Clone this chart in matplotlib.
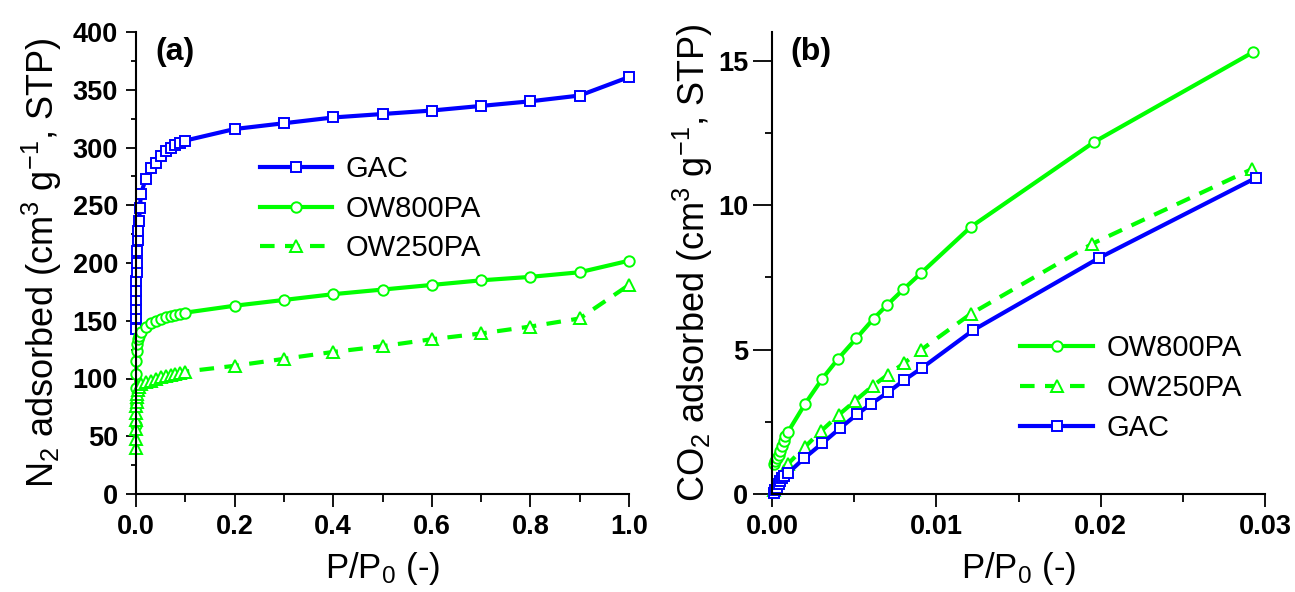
import matplotlib.pyplot as plt
from matplotlib.ticker import MultipleLocator

plt.rcParams['font.family'] = ['Liberation Sans', 'DejaVu Sans']
plt.rcParams['mathtext.fontset'] = 'custom'
plt.rcParams['mathtext.rm'] = 'Liberation Sans'
plt.rcParams['mathtext.it'] = 'Liberation Sans'
plt.rcParams['mathtext.default'] = 'regular'

# (a) N2 isotherms
n2_gac_x = [0.0001, 0.0002, 0.0004, 0.0006, 0.0008, 0.001, 0.0015, 0.002, 0.003, 0.004,
            0.005, 0.006, 0.008, 0.01, 0.02, 0.03, 0.04, 0.05, 0.06, 0.07, 0.08, 0.09,
            0.1, 0.2, 0.3, 0.4, 0.5, 0.6, 0.7, 0.8, 0.9, 1.0]
n2_gac_y = [143, 152, 160, 168, 176, 184, 192, 200, 210, 220,
            228, 236, 248, 260, 273, 282, 287, 293, 297, 300, 302, 304,
            306, 316, 321, 326, 329, 332, 336, 340, 345, 361]

n2_ow800_x = [0.0001, 0.0002, 0.0004, 0.0006, 0.001, 0.002, 0.003, 0.005, 0.007,
              0.01, 0.02, 0.03, 0.04, 0.05, 0.06, 0.07, 0.08, 0.09, 0.1,
              0.2, 0.3, 0.4, 0.5, 0.6, 0.7, 0.8, 0.9, 1.0]
n2_ow800_y = [60, 78, 92, 104, 115, 124, 130, 134, 137,
              140, 145, 148, 150, 151.5, 153, 154, 155, 156, 157,
              163, 168, 173, 177, 181, 185, 188, 192, 202]

n2_ow250_x = [0.00005, 0.0001, 0.0002, 0.0004, 0.0006, 0.001, 0.0015, 0.002, 0.003, 0.005, 0.007,
              0.01, 0.02, 0.03, 0.04, 0.05, 0.06, 0.07, 0.08, 0.09, 0.1,
              0.2, 0.3, 0.4, 0.5, 0.6, 0.7, 0.8, 0.9, 1.0]
n2_ow250_y = [40, 48, 56, 64, 70, 76, 80, 84, 87, 90, 93,
              95, 97, 98, 100, 101, 102, 103, 104, 105, 106,
              111, 117, 123, 128, 134, 139, 145, 152, 181]

# (b) CO2 isotherms
co2_ow800_x = [0.0001, 0.0002, 0.0003, 0.0004, 0.0005, 0.0006, 0.0007, 0.0008, 0.00095,
               0.002, 0.00307, 0.00402, 0.00513, 0.00618, 0.00701, 0.0080, 0.00907,
               0.0121, 0.0196, 0.0293]
co2_ow800_y = [1.03, 1.13, 1.24, 1.36, 1.5, 1.66, 1.83, 2.0, 2.13,
               3.11, 4.0, 4.68, 5.39, 6.07, 6.55, 7.09, 7.65,
               9.25, 12.19, 15.31]

co2_ow250_x = [0.0001, 0.0003, 0.0005, 0.0007, 0.00095, 0.002, 0.00301, 0.00406, 0.00507,
               0.00614, 0.00705, 0.00806, 0.00907, 0.0121, 0.0195, 0.0292]
co2_ow250_y = [0.15, 0.4, 0.6, 0.8, 1.03, 1.63, 2.19, 2.74, 3.23,
               3.75, 4.13, 4.54, 4.99, 6.24, 8.67, 11.25]

co2_gac_x = [0.0001, 0.0002, 0.0003, 0.0004, 0.0005, 0.0006, 0.0007, 0.00095, 0.00196,
             0.00305, 0.00412, 0.0052, 0.0060, 0.00705, 0.00806, 0.00911, 0.01226,
             0.01992, 0.02945]
co2_gac_y = [0.05, 0.13, 0.22, 0.34, 0.45, 0.57, 0.64, 0.71, 1.24,
             1.75, 2.27, 2.77, 3.11, 3.52, 3.95, 4.36, 5.68,
             8.18, 10.95]

green = '#00ff00'
blue = '#0000ff'
lw = 3.0
ms = 7.5
mew = 1.4
dash = (0, (3.5, 2.5))

fig = plt.figure(figsize=(12.95, 5.92), dpi=100)
ax1 = fig.add_axes([136 / 1295, 98 / 592, (629 - 136) / 1295, (494 - 32) / 592])
ax2 = fig.add_axes([772 / 1295, 98 / 592, (1265 - 772) / 1295, (494 - 32) / 592])

ax1.plot(n2_gac_x, n2_gac_y, color=blue, lw=lw, marker='s', ms=ms, mfc='white', mec=blue, mew=mew,
         label='GAC', clip_on=False)
ax1.plot(n2_ow800_x, n2_ow800_y, color=green, lw=lw, marker='o', ms=ms, mfc='white', mec=green, mew=mew,
         label='OW800PA', clip_on=False)
ax1.plot(n2_ow250_x, n2_ow250_y, color=green, lw=lw, ls=dash, marker='^', ms=ms + 0.5, mfc='white',
         mec=green, mew=mew, label='OW250PA', clip_on=False)

ax2.plot(co2_ow800_x, co2_ow800_y, color=green, lw=lw, marker='o', ms=ms, mfc='white', mec=green, mew=mew,
         label='OW800PA', clip_on=False)
ax2.plot(co2_ow250_x, co2_ow250_y, color=green, lw=lw, ls=dash, marker='^', ms=ms + 0.5, mfc='white',
         mec=green, mew=mew, label='OW250PA', clip_on=False)
ax2.plot(co2_gac_x, co2_gac_y, color=blue, lw=lw, marker='s', ms=ms, mfc='white', mec=blue, mew=mew,
         label='GAC', clip_on=False)

ax1.set_xlim(0, 1.0)
ax1.set_ylim(0, 400)
ax1.xaxis.set_minor_locator(MultipleLocator(0.1))
ax1.yaxis.set_major_locator(MultipleLocator(50))
ax1.yaxis.set_minor_locator(MultipleLocator(25))
ax1.set_xticks([0, 0.2, 0.4, 0.6, 0.8, 1.0], ['0.0', '0.2', '0.4', '0.6', '0.8', '1.0'])

ax2.set_xlim(0, 0.03)
ax2.set_ylim(0, 16)
ax2.xaxis.set_minor_locator(MultipleLocator(0.005))
ax2.yaxis.set_major_locator(MultipleLocator(5))
ax2.yaxis.set_minor_locator(MultipleLocator(2.5))
ax2.set_xticks([0, 0.01, 0.02, 0.03], ['0.00', '0.01', '0.02', '0.03'])

for ax in (ax1, ax2):
    ax.spines['top'].set_visible(False)
    ax.spines['right'].set_visible(False)
    ax.spines['left'].set_linewidth(1.5)
    ax.spines['bottom'].set_linewidth(1.5)
    ax.tick_params(which='both', direction='out', width=1.3, labelsize=19.5)
    ax.tick_params(axis='x', which='major', length=9.5, pad=5)
    ax.tick_params(axis='x', which='minor', length=5.5)
    for lab in ax.get_xticklabels() + ax.get_yticklabels():
        lab.set_fontweight('bold')
    ax.set_xlabel('P/P$_0$ (-)', fontsize=25, labelpad=7)

ax1.tick_params(axis='y', which='major', length=7, pad=6)
ax1.tick_params(axis='y', which='minor', length=3.6)
ax2.tick_params(axis='y', which='major', length=14, pad=3)
ax2.tick_params(axis='y', which='minor', length=5)

ax1.set_ylabel('N$_2$ adsorbed (cm$^3$ g$^{-1}$, STP)', fontsize=26, labelpad=6)
ax2.set_ylabel('CO$_2$ adsorbed (cm$^3$ g$^{-1}$, STP)', fontsize=26, labelpad=2)

ax1.text(0.039, 0.99, '(a)', transform=ax1.transAxes, fontsize=23, fontweight='bold', va='top')
ax2.text(0.037, 0.99, '(b)', transform=ax2.transAxes, fontsize=23, fontweight='bold', va='top')

ax1.legend(loc='upper left', bbox_to_anchor=(0.221, 0.765), frameon=False, fontsize=21,
           handlelength=2.5, handletextpad=0.45, labelspacing=0.4, borderpad=0)
ax2.legend(loc='upper left', bbox_to_anchor=(0.474, 0.377), frameon=False, fontsize=21,
           handlelength=2.5, handletextpad=0.45, labelspacing=0.4, borderpad=0)

fig.savefig('out.png', dpi=100)
